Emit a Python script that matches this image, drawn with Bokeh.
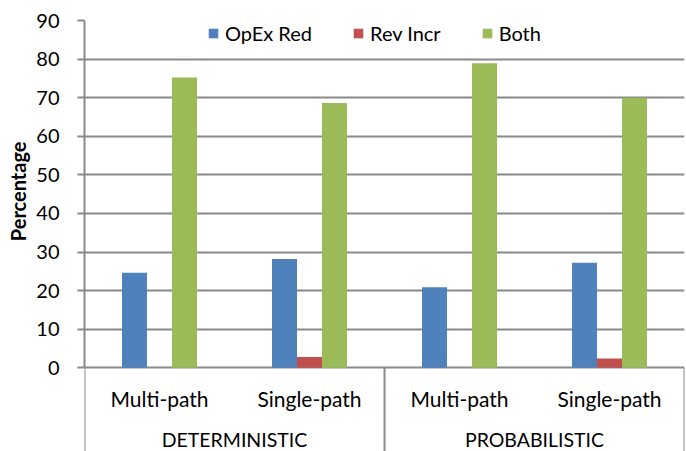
from bokeh.plotting import figure
from bokeh.models import FactorRange, Range1d, FixedTicker, ColumnDataSource, Title
from bokeh.transform import dodge
from bokeh.embed import file_html
from bokeh.resources import INLINE
from bokeh.core.properties import value

# ---- data ----
groups = ["DETERMINISTIC", "PROBABILISTIC"]
paths = ["Multi-path", "Single-path"]
series = ["OpEx Red", "Rev Incr", "Both"]
opex_red = [24.6, 28.2, 20.9, 27.2]
rev_incr = [0.0, 2.8, 0.0, 2.4]
both = [75.2, 68.6, 78.9, 70.0]
y_ticks = [0, 10, 20, 30, 40, 50, 60, 70, 80, 90]
colors = ["#4F81BD", "#C0504D", "#9BBB59"]

factors = [(g, pth) for g in groups for pth in paths]

FONT = "Lato"
GRID = "#8a8a8a"

x_range = FactorRange(*factors, factor_padding=0, group_padding=0, range_padding=0)
y_range = Range1d(-21.7, 90)

p = figure(width=686, height=451, x_range=x_range, y_range=y_range,
           output_backend="svg", toolbar_location=None,
           min_border_left=84, min_border_right=2, min_border_top=20, min_border_bottom=0)
p.outline_line_color = None
p.background_fill_color = "white"
p.border_fill_color = "white"

src = ColumnDataSource(dict(x=factors, opex=opex_red, rev=rev_incr, both=both))
bw = 1.0 / 6.0
p.vbar(x=dodge("x", -bw, range=p.x_range), top="opex", width=bw, source=src,
       fill_color=colors[0], line_color=None, legend_label=series[0])
p.vbar(x=dodge("x", 0.0, range=p.x_range), top="rev", width=bw, source=src,
       fill_color=colors[1], line_color=None, legend_label=series[1])
p.vbar(x=dodge("x", bw, range=p.x_range), top="both", width=bw, source=src,
       fill_color=colors[2], line_color=None, legend_label=series[2])

# category axis drawn inside the frame below zero
bottom = y_range.start
lab_src = ColumnDataSource(dict(x=factors, y=[-8.0] * len(factors), t=[f[1] for f in factors]))
p.text(x="x", y="y", text="t", source=lab_src, text_align="center", text_baseline="middle",
       text_font=value(FONT), text_font_size="21px", text_color="black")
grp_src = ColumnDataSource(dict(x=groups, y=[-18.6] * len(groups), t=groups))
p.text(x="x", y="y", text="t", source=grp_src, text_align="center", text_baseline="middle",
       text_font=value(FONT), text_font_size="19.5px", text_color="black")

first_src = ColumnDataSource(dict(x=[(g, paths[0]) for g in groups],
                                  y0=[0] * len(groups), y1=[bottom] * len(groups)))
p.segment(x0=dodge("x", -0.5, range=p.x_range), x1=dodge("x", -0.5, range=p.x_range),
          y0="y0", y1="y1", source=first_src, line_color=GRID, line_width=2)
last_src = ColumnDataSource(dict(x=[(groups[-1], paths[-1])], y0=[0], y1=[bottom]))
p.segment(x0=dodge("x", 0.5, range=p.x_range), x1=dodge("x", 0.5, range=p.x_range),
          y0="y0", y1="y1", source=last_src, line_color=GRID, line_width=2)

# axes
p.xaxis.visible = False
p.xgrid.visible = False
p.yaxis.ticker = FixedTicker(ticks=y_ticks)
p.yaxis.bounds = (0, 90)
p.yaxis.axis_line_color = GRID
p.yaxis.axis_line_width = 2
p.yaxis.major_tick_line_color = GRID
p.yaxis.major_tick_line_width = 2
p.yaxis.major_tick_out = 7
p.yaxis.major_tick_in = 0
p.yaxis.minor_tick_line_color = None
p.yaxis.major_label_standoff = 18
p.yaxis.major_label_text_font = FONT
p.yaxis.major_label_text_font_size = "20px"
p.yaxis.major_label_text_color = "black"
p.ygrid.grid_line_color = GRID
p.ygrid.grid_line_width = 2

# y axis title, centred on the 0-90 span
ytitle = Title(text="Percentage", align="right", offset=121, vertical_align="middle",
               text_font=FONT, text_font_style="bold", text_font_size="20px",
               text_color="black", standoff=6)
p.add_layout(ytitle, "left")

# legend
lg = p.legend[0]
lg.orientation = "horizontal"
lg.location = (123, 406)
lg.border_line_color = None
lg.background_fill_color = "white"
lg.background_fill_alpha = 1.0
lg.padding = 0
lg.margin = 0
lg.spacing = 40
lg.glyph_width = 12
lg.glyph_height = 12
lg.label_standoff = 6
lg.label_text_font = FONT
lg.label_text_font_size = "20px"
lg.label_text_color = "black"

open("out.html", "w").write(file_html(p, INLINE))
